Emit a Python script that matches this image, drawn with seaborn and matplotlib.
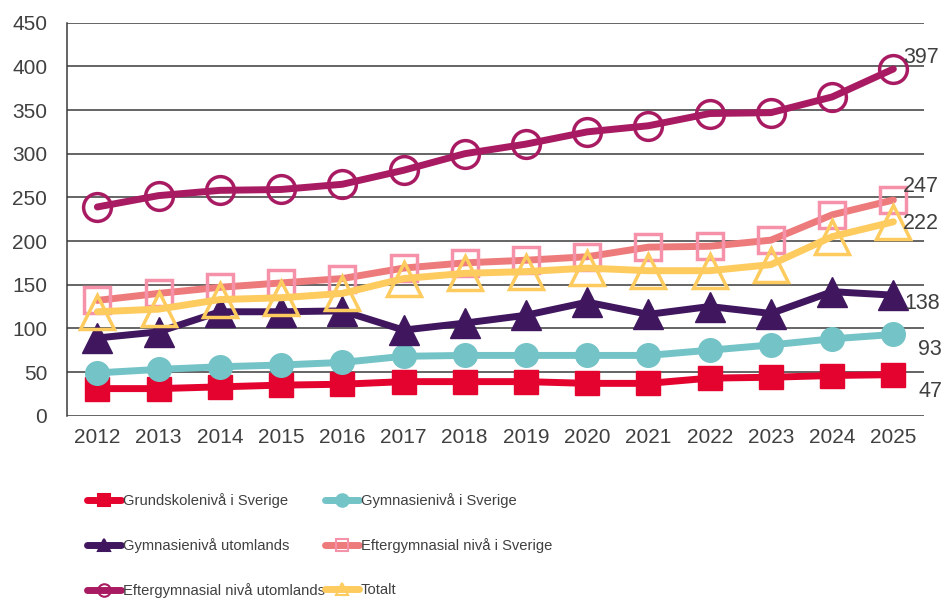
import matplotlib
matplotlib.use("Agg")
import matplotlib.pyplot as plt
from matplotlib.lines import Line2D
import seaborn as sns
import pandas as pd

years = ["2012", "2013", "2014", "2015", "2016", "2017", "2018",
         "2019", "2020", "2021", "2022", "2023", "2024", "2025"]

grundskola_sverige = [31, 31, 33, 35, 36, 39, 39, 39, 37, 37, 43, 44, 46, 47]
gymnasie_sverige = [49, 53, 56, 58, 61, 68, 69, 69, 69, 69, 75, 81, 88, 93]
gymnasie_utomlands = [89, 96, 119, 119, 120, 98, 106, 115, 130, 116, 125, 117, 142, 138]
efter_sverige = [132, 140, 147, 152, 157, 169, 175, 178, 182, 193, 194, 201, 230, 247]
efter_utomlands = [239, 252, 258, 259, 265, 281, 300, 311, 325, 332, 346, 347, 365, 397]
totalt = [119, 122, 133, 135, 140, 157, 163, 165, 169, 166, 166, 173, 205, 222]

series_names = ["Grundskolenivå i Sverige", "Gymnasienivå i Sverige",
                "Gymnasienivå utomlands", "Eftergymnasial nivå i Sverige",
                "Eftergymnasial nivå utomlands", "Totalt"]
series_values = [grundskola_sverige, gymnasie_sverige, gymnasie_utomlands,
                 efter_sverige, efter_utomlands, totalt]

# line colour, marker, marker size, marker face, marker edge
styles = [
    dict(color="#E4032E", marker="s", ms=17, mfc="#E4032E", mec="#E4032E", mew=1),
    dict(color="#74C3C7", marker="o", ms=17, mfc="#74C3C7", mec="#74C3C7", mew=1),
    dict(color="#40175E", marker="^", ms=21, mfc="#40175E", mec="#40175E", mew=1),
    dict(color="#EE7B7B", marker="s", ms=19, mfc="none", mec="#F592AA", mew=2.5),
    dict(color="#A81B62", marker="o", ms=20, mfc="none", mec="#A81B62", mew=2.5),
    dict(color="#FECB5F", marker="^", ms=25, mfc="none", mec="#FECB5F", mew=2.5),
]

# end-of-line value labels: offset in points from the last point
label_offsets = [(18, -12), (18, -11), (8, -6), (7, 10), (7, 8), (7, -1)]

sns.set_style("white")
plt.rcParams["font.family"] = ["Liberation Sans", "DejaVu Sans"]
text_color = "#404040"

fig = plt.figure(figsize=(9.44, 6.02), dpi=100)
ax = fig.add_axes([0.0707, 0.3095, 0.9081, 0.6528])

for name, vals, st in zip(series_names, series_values, styles):
    df = pd.DataFrame({"År": years, "Antal": vals})
    sns.lineplot(data=df, x="År", y="Antal", ax=ax, sort=False,
                 color=st["color"], linewidth=5, marker=st["marker"],
                 markersize=st["ms"], markerfacecolor=st["mfc"],
                 markeredgecolor=st["mec"], markeredgewidth=st["mew"],
                 label=name, clip_on=False)

for vals, (dx, dy) in zip(series_values, label_offsets):
    last = len(vals) - 1
    ax.annotate(f"{vals[-1]}", xy=(last, vals[-1]), xytext=(dx, dy),
                textcoords="offset points", ha="left", va="center",
                fontsize=15.5, color=text_color, annotation_clip=False)

ax.set_xlim(-0.5, len(years) - 0.5)
ax.set_ylim(0, 450)
ax.set_yticks(range(0, 451, 50))
ax.set_xlabel("")
ax.set_ylabel("")
ax.grid(axis="y", color="#3a3a3a", linewidth=1.1)
ax.grid(axis="x", visible=False)
ax.set_axisbelow(True)
for side in ["top", "right", "bottom"]:
    ax.spines[side].set_visible(False)
ax.spines["left"].set_color("#3a3a3a")
ax.spines["left"].set_linewidth(1.1)
ax.tick_params(axis="y", length=0, pad=14, labelsize=15, labelcolor=text_color)
ax.tick_params(axis="x", length=0, pad=9, labelsize=15, labelcolor=text_color)

ax.get_legend().remove()

# small-marker legend keys, arranged row by row in two columns
keys = [Line2D([], [], color=st["color"], linewidth=5, marker=st["marker"],
               markersize=9, markerfacecolor=st["mfc"],
               markeredgecolor=st["mec"], markeredgewidth=1.5)
        for st in styles]
order = [0, 2, 4, 1, 3, 5]
fig.legend([keys[i] for i in order], [series_names[i] for i in order],
           ncol=2, loc="upper left", bbox_to_anchor=(0.092, 0.181),
           frameon=False, prop={"size": 10.6}, labelcolor=text_color,
           handlelength=2.3, handletextpad=0.15, columnspacing=0.0,
           labelspacing=2.05, borderpad=0, borderaxespad=0)

fig.savefig("out.png", dpi=100)
